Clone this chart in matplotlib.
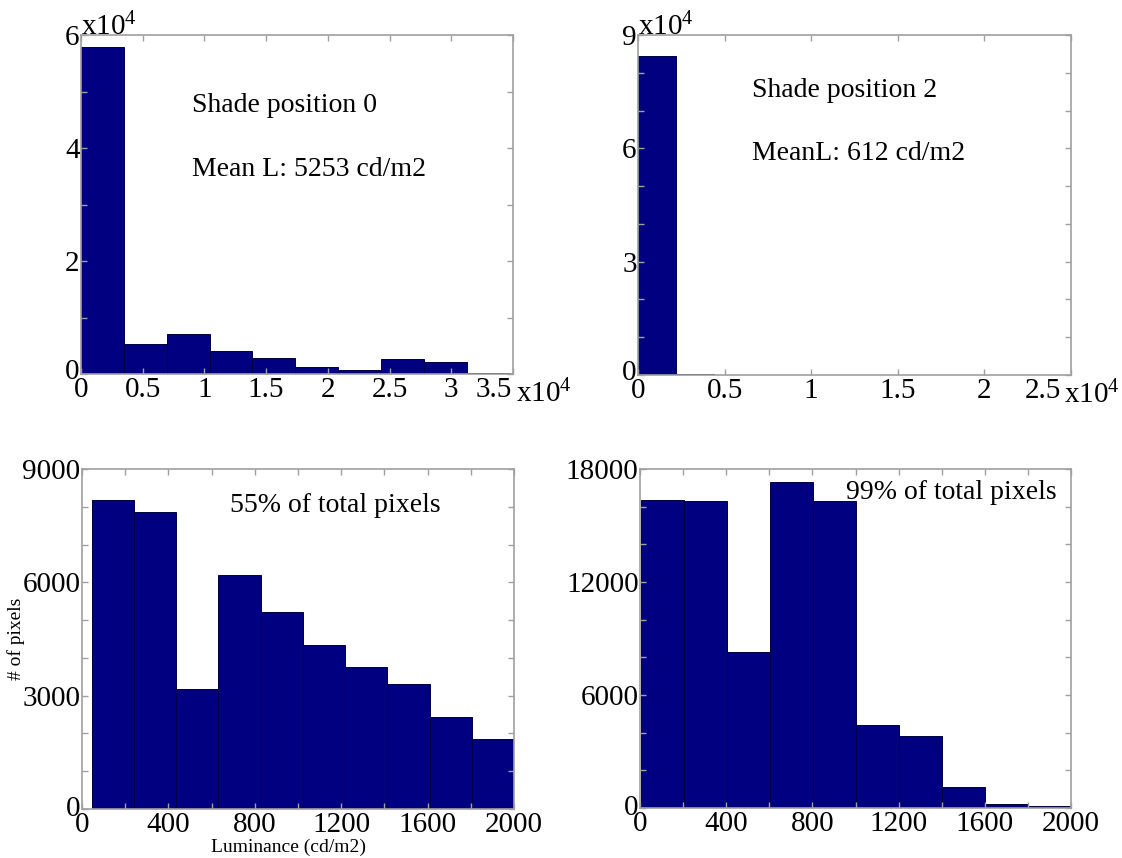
import numpy as np
import matplotlib
matplotlib.use("Agg")
import matplotlib.pyplot as plt
from matplotlib.transforms import offset_copy

plt.rcParams['font.family'] = ['Liberation Serif', 'DejaVu Serif']
plt.rcParams['mathtext.fontset'] = 'custom'
plt.rcParams['mathtext.rm'] = 'Liberation Serif'
plt.rcParams['mathtext.it'] = 'Liberation Serif'

# ---- data ----
# Top-left: full luminance range, shade position 0
tl_start = 0
tl_width = 3473
tl_counts = [57800, 5300, 7000, 4100, 2900, 1300, 650, 2600, 2050, 200]

# Top-right: full luminance range, shade position 2
tr_start = 0
tr_width = 2200
tr_counts = [84400, 300, 60, 40, 90, 30, 60, 30, 70, 30]

# Bottom-left: 0-2000 cd/m2, shade position 0
bl_start = 45
bl_width = 195.5
bl_counts = [8190, 7870, 3180, 6200, 5210, 4330, 3760, 3300, 2430, 1840]

# Bottom-right: 0-2000 cd/m2, shade position 2
br_start = 5
br_width = 199.5
br_counts = [16350, 16320, 8260, 17330, 16320, 4420, 3840, 1100, 210, 120]

tl_text = ["Shade position 0", "Mean L: 5253 cd/m2"]
tr_text = ["Shade position 2", "MeanL: 612 cd/m2"]
bl_text = "55% of total pixels"
br_text = "99% of total pixels"

tl_xticks = [0, 0.5, 1, 1.5, 2, 2.5, 3, 3.5]
tl_xticklabels = ["0", "0.5", "1", "1.5", "2", "2.5", "3", "3.5"]
tr_xticks = [0, 0.5, 1, 1.5, 2, 2.5]
tr_xticklabels = ["0", "0.5", "1", "1.5", "2", "2.5"]
tl_yticks = [0, 1, 2, 3, 4, 5, 6]
tl_yticklabels = ["0", "", "2", "", "4", "", "6"]
tr_yticks = [0, 1, 2, 3, 4, 5, 6, 7, 8, 9]
tr_yticklabels = ["0", "", "", "3", "", "", "6", "", "", "9"]
b_xticks = [0, 200, 400, 600, 800, 1000, 1200, 1400, 1600, 1800, 2000]
b_xticklabels = ["0", "", "400", "", "800", "", "1200", "", "1600", "", "2000"]
bl_yticks = [0, 1000, 2000, 3000, 4000, 5000, 6000, 7000, 8000, 9000]
bl_yticklabels = ["0", "", "", "3000", "", "", "6000", "", "", "9000"]
br_yticks = [0, 2000, 4000, 6000, 8000, 10000, 12000, 14000, 16000, 18000]
br_yticklabels = ["0", "", "", "6000", "", "", "12000", "", "", "18000"]

BAR = '#000080'
EDGE = '#000040'
SPINE = '#a0a0a0'
TFS = 21
AFS = 20

fig = plt.figure(figsize=(11.22, 8.58), dpi=100)
W, H = 1122, 858

def make_ax(l, r, t, b):
    return fig.add_axes([l / W, 1 - b / H, (r - l) / W, (b - t) / H])

ax_tl = make_ax(81, 513, 35, 374)
ax_tr = make_ax(638, 1071, 35, 375)
ax_bl = make_ax(82, 514, 469, 809)
ax_br = make_ax(640, 1071, 469, 808)

def style(ax):
    for s in ax.spines.values():
        s.set_color(SPINE)
        s.set_linewidth(1.2)
    ax.tick_params(direction='in', top=True, right=True, length=4, width=1,
                   color=SPINE, labelsize=TFS, pad=1)
    ax.tick_params(axis='x', pad=2)

def hist(ax, start, width, counts, scale=1.0):
    counts = np.asarray(counts, dtype=float) / scale
    lefts = (start + width * np.arange(len(counts))) / scale
    ax.bar(lefts, counts, width=width / scale, align='edge', color=BAR,
           edgecolor=EDGE, linewidth=0.7)

def lift_zero(ax, dy):
    lab = ax.get_yticklabels()[0]
    lab.set_transform(offset_copy(lab.get_transform(), fig=fig, x=0, y=dy, units='dots'))

# Top-left (x and y in units of 1e4)
hist(ax_tl, tl_start, tl_width, tl_counts, scale=1e4)
ax_tl.set_xlim(0, 3.5)
ax_tl.set_ylim(0, 6)
ax_tl.set_xticks(tl_xticks, tl_xticklabels)
ax_tl.set_yticks(tl_yticks, tl_yticklabels)
style(ax_tl)

# Top-right
hist(ax_tr, tr_start, tr_width, tr_counts, scale=1e4)
ax_tr.set_xlim(0, 2.5)
ax_tr.set_ylim(0, 9)
ax_tr.set_xticks(tr_xticks, tr_xticklabels)
ax_tr.set_yticks(tr_yticks, tr_yticklabels)
style(ax_tr)

# the x10^4 exponent labels
for ax, shift_last, exp_dx in ((ax_tl, -1, 3), (ax_tr, -10, -7)):
    ax.text(0.0, 1.0, r"x10$^{4}$", transform=ax.transAxes, ha='left',
            va='baseline', fontsize=TFS)
    last = ax.get_xticklabels()[-1]
    last.set_ha('right')
    last.set_transform(offset_copy(last.get_transform(), fig=fig,
                                   x=shift_last, y=0, units='dots'))
    ax.text(1.0, -0.018, r"x10$^{4}$",
            transform=offset_copy(ax.transAxes, fig=fig, x=exp_dx, y=0, units='dots'),
            ha='left', va='top', fontsize=TFS)
    lift_zero(ax, 5)

# Bottom-left
hist(ax_bl, bl_start, bl_width, bl_counts)
ax_bl.set_xlim(0, 2000)
ax_bl.set_ylim(0, 9000)
ax_bl.set_xticks(b_xticks, b_xticklabels)
ax_bl.set_yticks(bl_yticks, bl_yticklabels)
style(ax_bl)
ax_bl.set_ylabel("# of pixels", fontsize=14)
ax_bl.yaxis.set_label_coords(-0.132, 0.5)
ax_bl.set_xlabel("Luminance (cd/m2)", fontsize=14)
ax_bl.xaxis.set_label_coords(0.479, -0.088)
lift_zero(ax_bl, 3)

# Bottom-right
hist(ax_br, br_start, br_width, br_counts)
ax_br.set_xlim(0, 2000)
ax_br.set_ylim(0, 18000)
ax_br.set_xticks(b_xticks, b_xticklabels)
ax_br.set_yticks(br_yticks, br_yticklabels)
style(ax_br)
lift_zero(ax_br, 3)

# annotations
ax_tl.text(0.256, 0.793, tl_text[0], transform=ax_tl.transAxes, fontsize=AFS, va='center')
ax_tl.text(0.256, 0.602, tl_text[1], transform=ax_tl.transAxes, fontsize=AFS, va='center')
ax_tr.text(0.263, 0.838, tr_text[0], transform=ax_tr.transAxes, fontsize=AFS, va='center')
ax_tr.text(0.263, 0.650, tr_text[1], transform=ax_tr.transAxes, fontsize=AFS, va='center')
ax_bl.text(0.343, 0.894, bl_text, transform=ax_bl.transAxes, fontsize=AFS, va='center')
ax_br.text(0.478, 0.932, br_text, transform=ax_br.transAxes, fontsize=AFS, va='center')

fig.savefig("out.png", dpi=100)
